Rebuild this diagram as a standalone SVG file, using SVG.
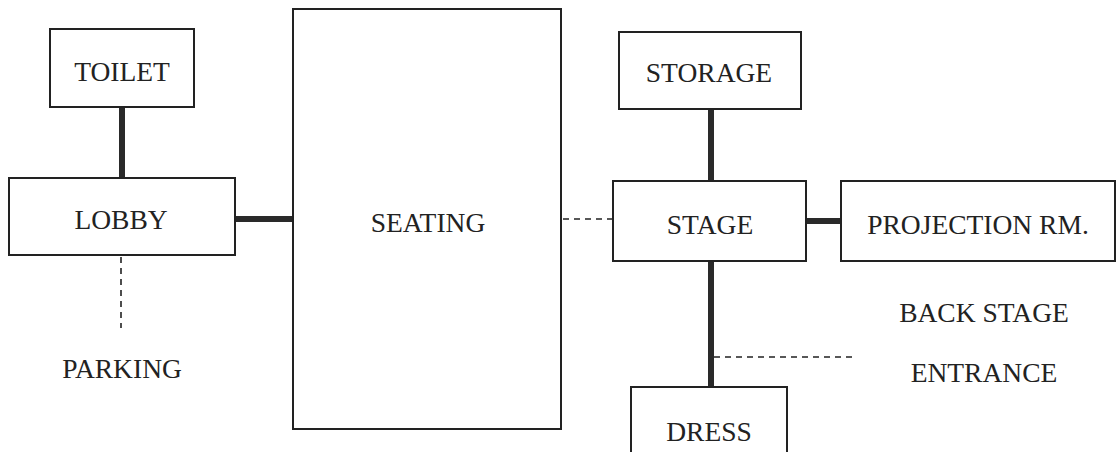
<svg xmlns="http://www.w3.org/2000/svg" width="1117" height="452" viewBox="0 0 1117 452">
<style>
.box{fill:#fff;stroke:#222;stroke-width:2}
.lbl{font-family:"Liberation Serif",serif;font-size:27.5px;fill:#222;text-anchor:middle}
.thick{stroke:#2a2a2a;stroke-width:6;fill:none}
.dash{stroke:#222;stroke-width:1.6;stroke-dasharray:6 5;fill:none}
</style>
<rect width="1117" height="452" fill="#fff"/>
<g id="connectors">
<line class="thick" x1="122" y1="107" x2="122" y2="178"/>
<line class="thick" x1="235" y1="219" x2="293" y2="219"/>
<line class="dash" x1="563" y1="219" x2="613" y2="219"/>
<line class="thick" x1="711" y1="109" x2="711" y2="181"/>
<line class="thick" x1="806" y1="221" x2="841" y2="221"/>
<line class="thick" x1="711" y1="261" x2="711" y2="387"/>
<line class="dash" x1="121" y1="257" x2="121" y2="328"/>
<line class="dash" x1="714" y1="357" x2="854" y2="357"/>
</g>
<g id="toilet"><rect class="box" x="50" y="29" width="144" height="78"/><text class="lbl" x="122" y="81">TOILET</text></g>
<g id="lobby"><rect class="box" x="9" y="178" width="226" height="77"/><text class="lbl" x="121" y="229">LOBBY</text></g>
<g id="parking"><text class="lbl" x="122" y="378">PARKING</text></g>
<g id="seating"><rect class="box" x="293" y="9" width="268" height="420"/><text class="lbl" x="428" y="232">SEATING</text></g>
<g id="storage"><rect class="box" x="619" y="32" width="182" height="77"/><text class="lbl" x="709" y="82">STORAGE</text></g>
<g id="stage"><rect class="box" x="613" y="181" width="193" height="80"/><text class="lbl" x="710" y="234">STAGE</text></g>
<g id="projection"><rect class="box" x="841" y="181" width="274" height="80"/><text class="lbl" x="978" y="234">PROJECTION RM.</text></g>
<g id="backstage"><text class="lbl" x="984" y="322">BACK STAGE</text><text class="lbl" x="984" y="382">ENTRANCE</text></g>
<g id="dress"><rect class="box" x="631" y="387" width="156" height="80"/><text class="lbl" x="709" y="441">DRESS</text></g>
</svg>
